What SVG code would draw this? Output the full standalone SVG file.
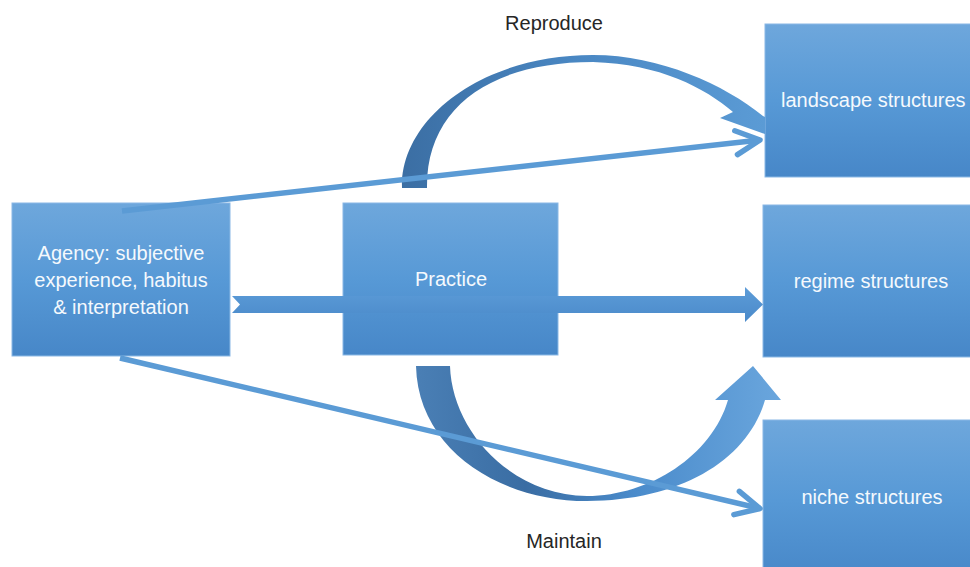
<svg xmlns="http://www.w3.org/2000/svg" width="970" height="567" viewBox="0 0 970 567">
<defs>
<linearGradient id="boxg" x1="0" y1="0" x2="0" y2="1">
<stop offset="0" stop-color="#6ea7dc"/>
<stop offset="0.5" stop-color="#5799d6"/>
<stop offset="1" stop-color="#4787c8"/>
</linearGradient>
<linearGradient id="repg" gradientUnits="userSpaceOnUse" x1="400" y1="0" x2="765" y2="0">
<stop offset="0" stop-color="#3b6ea3"/>
<stop offset="0.5" stop-color="#4a88c4"/>
<stop offset="1" stop-color="#5b9bd5"/>
</linearGradient>
<linearGradient id="mntg" gradientUnits="userSpaceOnUse" x1="416" y1="0" x2="781" y2="0">
<stop offset="0" stop-color="#4a7fb5"/>
<stop offset="0.3" stop-color="#3a6da3"/>
<stop offset="0.6" stop-color="#4a8bcb"/>
<stop offset="1" stop-color="#6aa6dd"/>
</linearGradient>
<linearGradient id="bandg" x1="0" y1="0" x2="0" y2="1">
<stop offset="0" stop-color="#5d9cd8"/>
<stop offset="1" stop-color="#4a8aca"/>
</linearGradient>
<marker id="chev" markerUnits="userSpaceOnUse" markerWidth="40" markerHeight="40" refX="30" refY="20" orient="auto" viewBox="0 0 40 40">
<polyline points="6,8 30,20 6,32" fill="none" stroke="#5b9bd5" stroke-width="5.5" stroke-linecap="round" stroke-linejoin="round"/>
</marker>
</defs>
<style>
.box{fill:url(#boxg);stroke:#8ab8e5;stroke-width:1}
.nt{font-family:"Liberation Sans",Arial,sans-serif;font-size:20px;fill:#f5f9fd;text-anchor:middle}
.lbl{font-family:"Liberation Sans",Arial,sans-serif;font-size:20px;fill:#262626;text-anchor:middle}
.thin{fill:none;stroke:#5b9bd5;stroke-width:5.5;marker-end:url(#chev)}
</style>
<rect width="970" height="567" fill="#ffffff"/>
<g id="agency">
<rect class="box" x="12" y="203" width="218" height="153"/>
<text class="nt" x="121" y="260">Agency: subjective</text>
<text class="nt" x="121" y="287">experience, habitus</text>
<text class="nt" x="121" y="314">&amp; interpretation</text>
</g>
<g id="practice">
<rect class="box" x="343" y="203" width="215" height="152"/>
<text class="nt" x="451" y="286">Practice</text>
</g>
<g id="landscape">
<rect class="box" x="765" y="24" width="210" height="153"/>
<text class="nt" x="781" y="107" style="text-anchor:start">landscape structures</text>
</g>
<g id="regime">
<rect class="box" x="763" y="205" width="212" height="152"/>
<text class="nt" x="871" y="288">regime structures</text>
</g>
<g id="niche">
<rect class="box" x="763" y="420" width="212" height="160"/>
<text class="nt" x="872" y="504">niche structures</text>
</g>
<g id="connectors">
<path id="reproduce" fill="url(#repg)" d="M402,188 C400,120 480,55 593,55 C660,55 725,85 763,116 L765,117 L765,134 L720,118 L733,112 C705,88 660,64 593,62 C490,62 426,108 427,188 Z"/>
<path id="maintain" fill="url(#mntg)" d="M416,366 L450,366 C452,430 510,495 587,496 C650,496 712,455 728,400 L715,400 L753,366 L781,400 L765,400 C748,460 680,501 587,501 C500,501 418,450 416,366 Z"/>
<path id="agency-regime" fill="url(#bandg)" d="M232,296 L745,296 L745,287 L763,304.5 L745,322 L745,313 L232,313 L240,304.5 Z"/>
<path id="agency-landscape" class="thin" d="M122,211 L760,140"/>
<path id="agency-niche" class="thin" d="M120,358 L760,508.5"/>
</g>
<text class="lbl" x="554" y="30">Reproduce</text>
<text class="lbl" x="564" y="548">Maintain</text>
</svg>
